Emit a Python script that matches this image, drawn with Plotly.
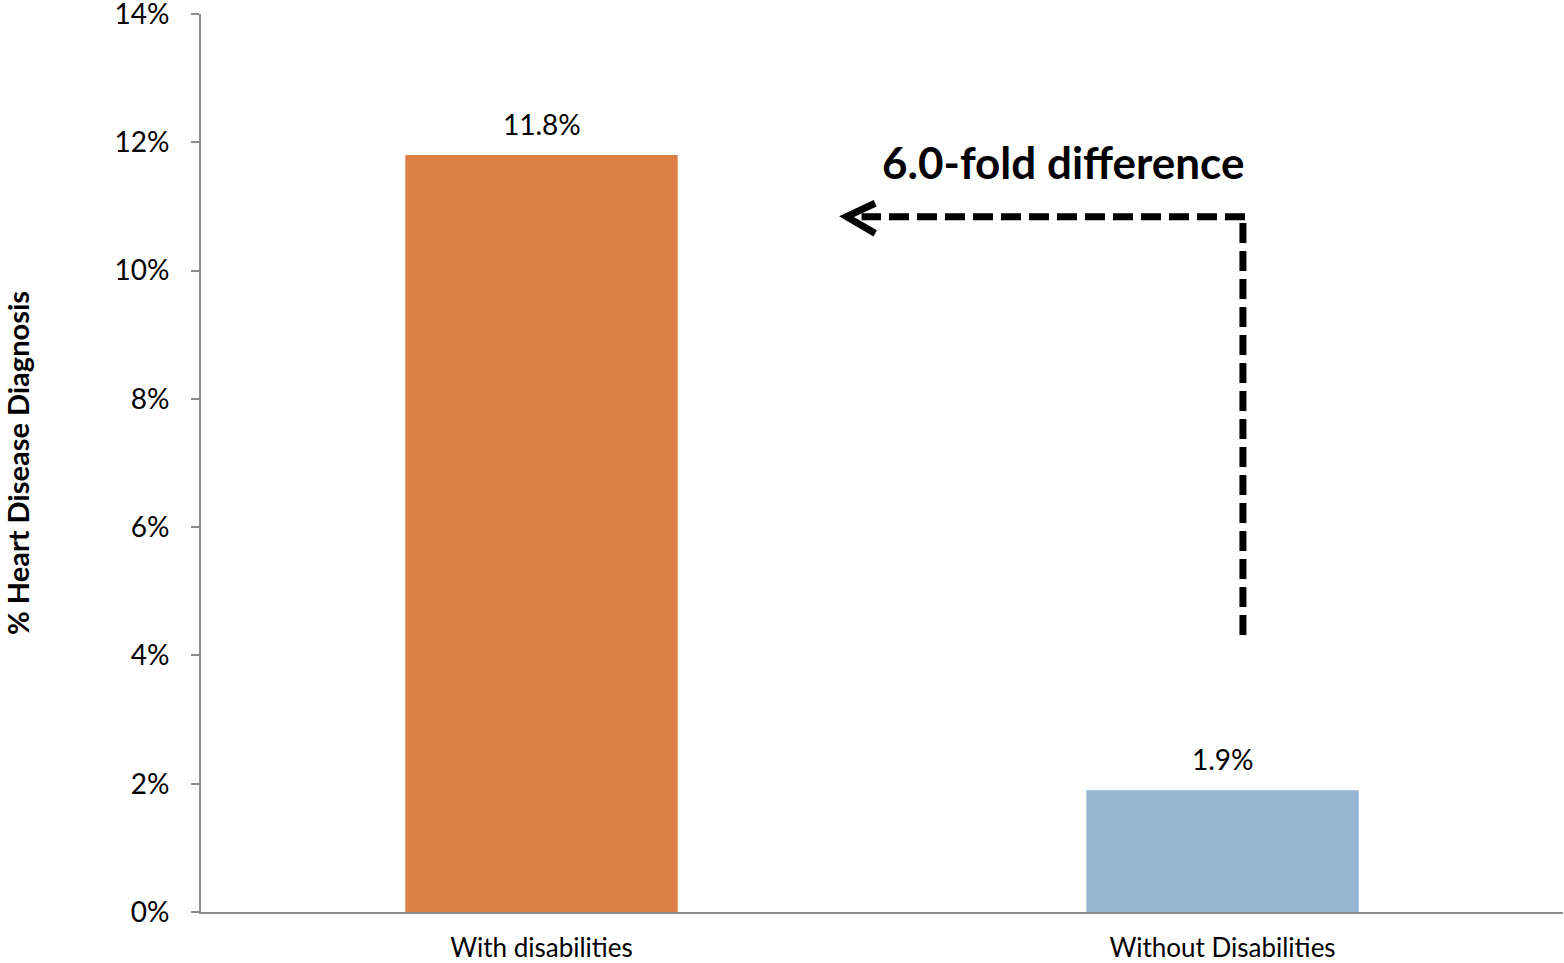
import plotly.graph_objects as go

categories = ["With disabilities", "Without Disabilities"]
values = [11.8, 1.9]
bar_colors = ["#DD8047", "#94B6D2"]
y_ticks = [0, 2, 4, 6, 8, 10, 12, 14]
y_tick_text = [f"{t}%" for t in y_ticks]
annotation_text = "6.0-fold difference"

FONT = "Lato"
AXIS_COLOR = "#8c8c8c"

fig = go.Figure()
fig.add_trace(go.Bar(
    x=[0, 1], y=values,
    marker=dict(color=bar_colors, line=dict(width=0)),
    width=0.4,
    hoverinfo="skip",
))

# data labels
for i, v in enumerate(values):
    fig.add_annotation(xref="x", yref="y", x=i, y=v, text=f"{v:.1f}%",
                       showarrow=False, yanchor="bottom", yshift=12,
                       font=dict(family=FONT, size=28, color="black"))

# dashed arrow: vertical then horizontal
line_style = dict(color="black", width=7, dash="20px,8px")
fig.add_shape(type="line", xref="x", yref="y", x0=1.03, y0=4.32, x1=1.03, y1=10.84, line=line_style)
fig.add_shape(type="line", xref="x", yref="y", x0=1.033, y0=10.84, x1=0.47, y1=10.84, line=line_style)
# chevron arrow head
fig.add_shape(type="path", xref="x", yref="y",
              path="M 0.49,11.05 L 0.448,10.84 L 0.49,10.58",
              line=dict(color="black", width=7))

fig.add_annotation(xref="x", yref="y", x=1.035, y=11.7, text=f"<b>{annotation_text}</b>",
                   showarrow=False, xanchor="right", yanchor="middle",
                   font=dict(family=FONT, size=44, color="black"))

fig.update_layout(
    width=1564, height=963,
    margin=dict(l=201, r=1, t=14, b=51),
    paper_bgcolor="white", plot_bgcolor="white",
    showlegend=False,
    font=dict(family=FONT, color="black"),
    xaxis=dict(
        range=[-0.5, 1.5],
        tickmode="array", tickvals=[0, 1], ticktext=categories,
        tickfont=dict(family=FONT, size=26, color="black"),
        showgrid=False, zeroline=False,
        showline=True, linecolor=AXIS_COLOR, linewidth=2,
        ticks="", ticklabelstandoff=12,
        ticklabeloverflow="allow",
        automargin=False,
    ),
    yaxis=dict(
        range=[0, 14],
        tickmode="array", tickvals=y_ticks, ticktext=y_tick_text,
        tickfont=dict(family=FONT, size=28, color="black"),
        showgrid=False, zeroline=False,
        showline=True, linecolor=AXIS_COLOR, linewidth=2,
        ticks="outside", ticklen=8, tickcolor=AXIS_COLOR, tickwidth=2,
        ticklabelstandoff=16,
        ticklabeloverflow="allow",
        automargin=False,
        title=dict(text="<b>% Heart Disease Diagnosis</b>",
                   font=dict(family=FONT, size=29, color="black"), standoff=110),
    ),
)

# category boundary ticks on x axis
for xb in [-0.5, 0.5, 1.5]:
    fig.add_shape(type="line", xref="x", yref="y", x0=xb, x1=xb, y0=0, y1=-0.12,
                  line=dict(color=AXIS_COLOR, width=2))

fig.write_html("out.html", config={"displayModeBar": False},
               post_script="document.body.style.margin='0';document.body.style.padding='0';")
